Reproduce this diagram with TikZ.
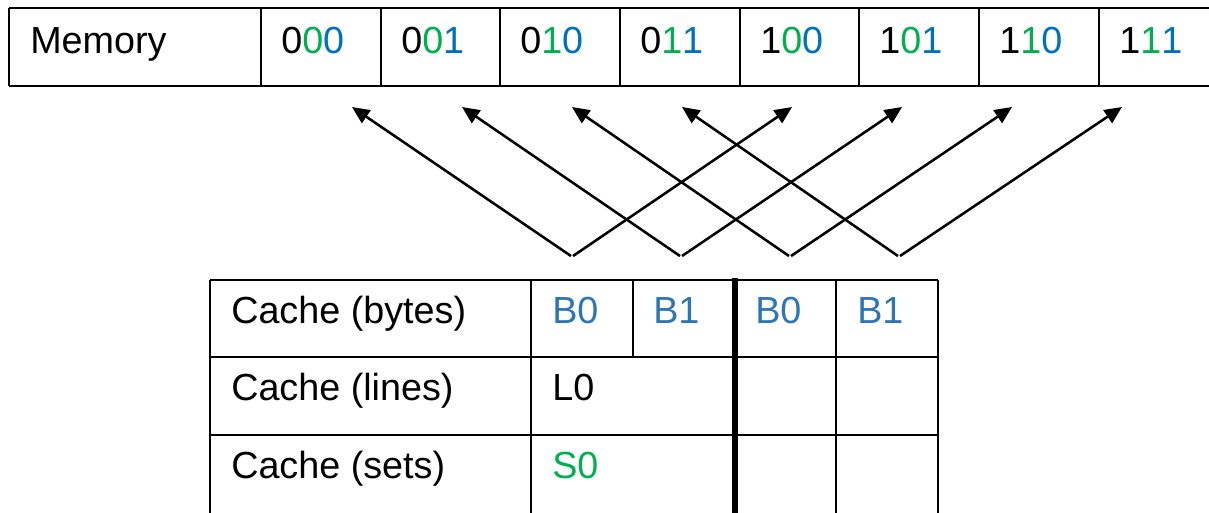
\documentclass[tikz,border=0pt]{standalone}
\usepackage{fontspec}
\setmainfont{Liberation Sans}
\usetikzlibrary{arrows.meta}
\definecolor{mgreen}{HTML}{00B050}
\definecolor{mblue}{HTML}{0070C0}
\definecolor{cblue}{HTML}{2E75B6}
\begin{document}
\begin{tikzpicture}[x=0.75pt,y=-0.75pt,
  grid/.style={line width=1.9pt,black},
  thickline/.style={line width=4pt,black},
  lbl/.style={anchor=base west,inner sep=0pt,font=\fontsize{28.3}{34}\selectfont},
  conn/.style={line width=1.9pt,-{Triangle[length=13pt,width=11.5pt]}}]
\useasboundingbox (0,0) rectangle (1209,512);
\clip (0,0) rectangle (1209,512);
% Memory table
\draw[grid] (9,8) -- (1215,8);
\draw[grid] (9,86) -- (1215,86);
\foreach \x in {9,261,381,500,620,740,859,979,1099}
  \draw[grid] (\x,8) -- (\x,86);
\node[lbl] (mem) at (30,53) {Memory};
\newcommand{\bits}[3]{{\color{black}#1}{\color{mgreen}#2}{\color{mblue}#3}}
\node[lbl] (m0) at (281,53) {\bits000};
\node[lbl] (m1) at (401,53) {\bits001};
\node[lbl] (m2) at (520,53) {\bits010};
\node[lbl] (m3) at (640,53) {\bits011};
\node[lbl] (m4) at (760,53) {\bits100};
\node[lbl] (m5) at (879,53) {\bits101};
\node[lbl] (m6) at (999,53) {\bits110};
\node[lbl] (m7) at (1119,53) {\bits111};
% Cache table
\draw[grid] (210,280) -- (938,280);
\draw[grid] (210,357) -- (938,357);
\draw[grid] (210,435) -- (938,435);
\foreach \x in {210,531,836,938}
  \draw[grid] (\x,280) -- (\x,520);
\draw[grid] (633,280) -- (633,357);
\draw[thickline] (735,278) -- (735,520);
\node[lbl] (cb) at (231,323) {Cache (bytes)};
\node[lbl] (cl) at (231,400) {Cache (lines)};
\node[lbl] (cs) at (231,478) {Cache (sets)};
\node[lbl,text=cblue] (b00) at (552,323) {B0};
\node[lbl,text=cblue] (b01) at (653,323) {B1};
\node[lbl,text=cblue] (b10) at (755,323) {B0};
\node[lbl,text=cblue] (b11) at (857,323) {B1};
\node[lbl] (l0) at (552,400) {L0};
\node[lbl,text=mgreen] (s0) at (552,478) {S0};
% Arrows
\foreach \i in {0,1,2,3}{
  \coordinate (vl\i) at ({571+109*\i},256);
  \coordinate (vr\i) at ({573+109*\i},256);
  \coordinate (tl\i) at ({352+110*\i},107);
  \coordinate (tr\i) at ({792+110*\i},107);
  \draw[conn] (vl\i) -- (tl\i);
  \draw[conn] (vr\i) -- (tr\i);
}
\end{tikzpicture}
\end{document}
